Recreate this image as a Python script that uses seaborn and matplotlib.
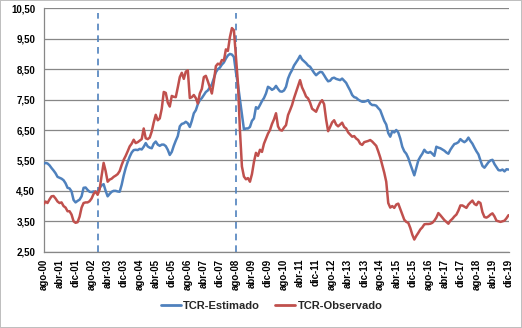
import numpy as np
import pandas as pd
import matplotlib
matplotlib.use("Agg")
import matplotlib.pyplot as plt
from matplotlib.lines import Line2D
import seaborn as sns

# ---------------- data (monthly, ago-2000 .. dic-2019) ----------------
start_month = "2000-08"
tcr_estimado = [
    5.38, 5.42, 5.40, 5.34, 5.25, 5.17, 5.08, 4.96, 4.93, 4.90, 4.85, 4.75,
    4.60, 4.58, 4.48, 4.20, 4.12, 4.17, 4.21, 4.32, 4.60, 4.61, 4.53, 4.47,
    4.46, 4.48, 4.47, 4.45, 4.60, 4.68, 4.72, 4.50, 4.32, 4.40, 4.47, 4.50,
    4.50, 4.48, 4.47, 4.70, 5.00, 5.25, 5.45, 5.62, 5.76, 5.84, 5.85, 5.84,
    5.88, 5.86, 5.95, 6.07, 5.96, 5.92, 5.90, 6.05, 6.12, 6.02, 5.98, 6.02,
    6.02, 5.97, 5.85, 5.68, 5.78, 5.98, 6.15, 6.30, 6.62, 6.70, 6.72, 6.77,
    6.72, 6.60, 6.80, 7.05, 7.15, 7.35, 7.48, 7.55, 7.65, 7.75, 7.80, 7.90,
    8.00, 8.20, 8.40, 8.50, 8.55, 8.65, 8.72, 8.85, 8.95, 9.00, 8.98, 8.90,
    8.40, 8.00, 7.50, 7.00, 6.52, 6.55, 6.55, 6.60, 6.80, 6.88, 7.25, 7.20,
    7.32, 7.45, 7.55, 7.70, 7.92, 7.88, 7.82, 7.86, 7.95, 7.85, 7.77, 7.76,
    7.80, 7.92, 8.19, 8.35, 8.47, 8.62, 8.72, 8.82, 8.94, 8.82, 8.76, 8.70,
    8.62, 8.58, 8.48, 8.38, 8.30, 8.36, 8.41, 8.40, 8.30, 8.19, 8.10, 8.12,
    8.20, 8.22, 8.18, 8.16, 8.14, 8.19, 8.12, 8.05, 7.92, 7.80, 7.65, 7.58,
    7.56, 7.50, 7.46, 7.43, 7.43, 7.45, 7.48, 7.37, 7.32, 7.32, 7.30, 7.22,
    7.15, 6.98, 6.80, 6.68, 6.40, 6.28, 6.46, 6.42, 6.50, 6.42, 6.22, 5.95,
    5.80, 5.72, 5.58, 5.38, 5.20, 5.01, 5.25, 5.50, 5.62, 5.72, 5.85, 5.77,
    5.75, 5.78, 5.72, 5.65, 5.95, 5.92, 5.90, 5.86, 5.82, 5.76, 5.72, 5.85,
    5.95, 6.04, 6.06, 6.10, 6.20, 6.14, 6.10, 6.15, 6.25, 6.14, 6.05, 5.92,
    5.80, 5.70, 5.50, 5.32, 5.26, 5.35, 5.44, 5.50, 5.52, 5.38, 5.28, 5.18,
    5.17, 5.20, 5.14, 5.21, 5.20,
]
tcr_observado = [
    4.05, 4.15, 4.10, 4.22, 4.32, 4.33, 4.25, 4.15, 4.10, 4.12, 4.00, 3.95,
    3.83, 3.83, 3.72, 3.50, 3.45, 3.47, 3.65, 3.95, 4.10, 4.12, 4.12, 4.16,
    4.25, 4.40, 4.48, 4.37, 4.55, 5.00, 5.42, 5.15, 4.80, 4.87, 4.90, 4.96,
    5.00, 5.05, 5.15, 5.35, 5.52, 5.65, 5.80, 5.96, 6.05, 6.18, 6.07, 6.10,
    6.15, 6.20, 6.55, 6.23, 6.20, 6.25, 6.45, 6.75, 7.00, 6.82, 6.88, 7.20,
    7.75, 7.72, 7.40, 7.27, 7.62, 7.59, 7.58, 7.90, 8.24, 8.38, 8.18, 8.42,
    8.46, 7.55, 7.58, 7.65, 7.55, 7.37, 7.70, 7.85, 8.24, 8.28, 8.10, 7.90,
    7.70, 8.10, 8.60, 8.68, 8.65, 8.80, 8.78, 9.15, 9.10, 9.55, 9.85, 9.78,
    8.90, 8.05, 6.50, 5.30, 4.97, 4.88, 4.92, 4.80, 5.05, 5.45, 5.75, 5.65,
    5.85, 5.78, 6.05, 6.22, 6.38, 6.50, 6.70, 6.85, 7.05, 6.62, 6.50, 6.48,
    6.58, 6.66, 6.99, 7.15, 7.32, 7.55, 7.75, 7.95, 8.14, 7.90, 7.76, 7.60,
    7.54, 7.40, 7.20, 7.15, 7.10, 7.26, 7.40, 7.48, 7.35, 6.85, 6.46, 6.60,
    6.75, 6.82, 6.68, 6.62, 6.68, 6.74, 6.60, 6.55, 6.42, 6.35, 6.28, 6.30,
    6.22, 6.17, 6.05, 6.01, 6.10, 6.12, 6.14, 6.17, 6.12, 6.05, 5.98, 5.80,
    5.60, 5.35, 5.10, 4.80, 4.10, 3.95, 4.00, 3.94, 4.05, 4.08, 3.90, 3.72,
    3.55, 3.48, 3.45, 3.28, 3.06, 2.90, 3.02, 3.12, 3.23, 3.30, 3.40, 3.41,
    3.41, 3.42, 3.45, 3.52, 3.62, 3.77, 3.70, 3.62, 3.54, 3.48, 3.42, 3.52,
    3.58, 3.66, 3.72, 3.85, 4.02, 4.02, 3.98, 3.94, 4.05, 4.12, 4.18, 4.07,
    4.03, 4.14, 4.10, 3.80, 3.64, 3.62, 3.66, 3.72, 3.76, 3.66, 3.52, 3.50,
    3.48, 3.50, 3.52, 3.60, 3.70,
]
series_names = ["TCR-Estimado", "TCR-Observado"]
tick_labels = [
    "ago-00", "abr-01", "dic-01", "ago-02", "abr-03", "dic-03", "ago-04",
    "abr-05", "dic-05", "ago-06", "abr-07", "dic-07", "ago-08", "abr-09",
    "dic-09", "ago-10", "abr-11", "dic-11", "ago-12", "abr-13", "dic-13",
    "ago-14", "abr-15", "dic-15", "ago-16", "abr-17", "dic-17", "ago-18",
    "abr-19", "dic-19",
]
event_months = ["2002-11", "2008-08"]
y_ticks = [2.5, 3.5, 4.5, 5.5, 6.5, 7.5, 8.5, 9.5, 10.5]

# ---------------- build frame ----------------
months = pd.period_range(start_month, periods=len(tcr_estimado), freq="M")
idx = np.arange(len(months))
df = pd.DataFrame({
    "idx": np.concatenate([idx, idx]),
    "valor": tcr_estimado + tcr_observado,
    "serie": [series_names[0]] * len(idx) + [series_names[1]] * len(idx),
})

sns.set_theme(style="white")
plt.rcParams["font.family"] = ["Liberation Sans", "DejaVu Sans"]

blue = "#4F81BD"
red = "#C0504D"
grid_c = "#878787"

W, H = 522, 328
fig = plt.figure(figsize=(W / 100, H / 100), dpi=100)
fig.patch.set_facecolor("white")
fig.patch.set_edgecolor("#bfbfbf")
fig.patch.set_linewidth(1.2)

left, right, top, bottom = 43.5, 508.5, 8.3, 251.7
ax = fig.add_axes([left / W, 1 - bottom / H, (right - left) / W, (bottom - top) / H])

sns.lineplot(data=df, x="idx", y="valor", hue="serie", palette=[blue, red],
             linewidth=1.8, ax=ax, legend=False, zorder=3)

ax.set_xlim(0, len(idx) - 1)
ax.set_ylim(y_ticks[0], y_ticks[-1])
ax.set_yticks(y_ticks)
ax.set_yticklabels([f"{v:.2f}".replace(".", ",") for v in y_ticks],
                   fontsize=7, fontweight="bold")
tick_pos = list(range(0, len(idx), 8))[:len(tick_labels)]
ax.set_xticks(tick_pos)
ax.set_xticklabels(tick_labels, rotation=90, fontsize=7, fontweight="bold")
ax.set_xlabel("")
ax.set_ylabel("")

ax.grid(axis="y", color=grid_c, linewidth=0.9)
ax.grid(axis="x", visible=False)
ax.set_axisbelow(True)
for s in ["top", "right"]:
    ax.spines[s].set_visible(False)
for s in ["left", "bottom"]:
    ax.spines[s].set_color(grid_c)
    ax.spines[s].set_linewidth(0.9)
ax.tick_params(axis="both", which="major", direction="out", length=3.5,
               width=0.8, color=grid_c, pad=2.5, labelcolor="black")
ax.tick_params(axis="x", pad=1.5)

month_list = [str(m) for m in months]
for em in event_months:
    pos = month_list.index(em)
    ax.axvline(pos, ymin=0, ymax=0.98, color=blue, linewidth=1.2,
               linestyle=(0, (4, 3)), zorder=2)

handles = [Line2D([0], [0], color=blue, lw=2),
           Line2D([0], [0], color=red, lw=2)]
fig.legend(handles, series_names, loc="center", bbox_to_anchor=(0.52, 1 - 306 / H),
           ncol=2, frameon=False, handlelength=1.8, handletextpad=0.2,
           columnspacing=1.4, prop={"size": 8, "weight": "bold"})

fig.savefig("out.png", dpi=100, facecolor="white", edgecolor="#bfbfbf")
